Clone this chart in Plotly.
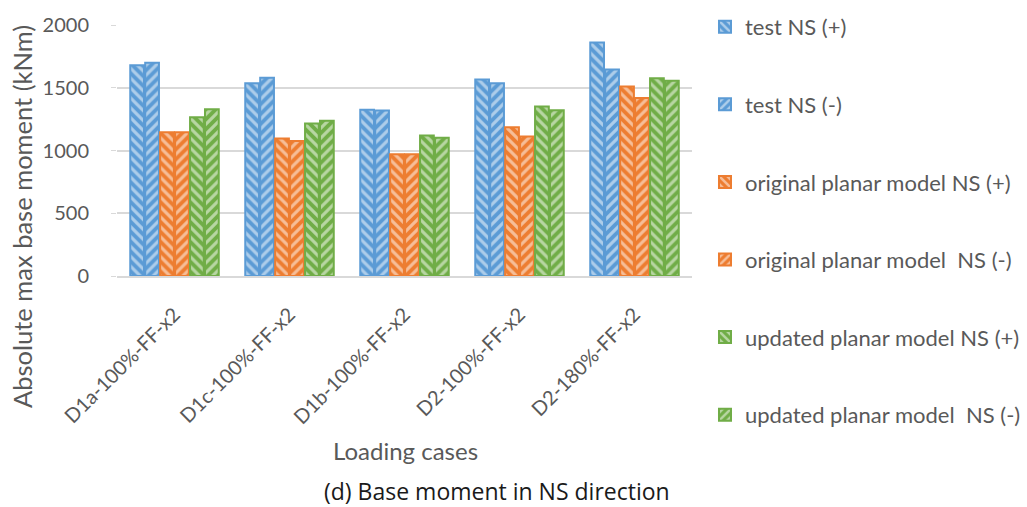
import plotly.graph_objects as go

categories = ["D1a-100%-FF-x2", "D1c-100%-FF-x2", "D1b-100%-FF-x2", "D2-100%-FF-x2", "D2-180%-FF-x2"]
test_pos = [1680, 1535, 1325, 1565, 1860]
test_neg = [1700, 1580, 1318, 1535, 1645]
orig_pos = [1145, 1095, 970, 1185, 1510]
orig_neg = [1145, 1075, 970, 1112, 1418]
upd_pos = [1265, 1215, 1120, 1350, 1575]
upd_neg = [1328, 1238, 1102, 1320, 1555]

series_names = ["test NS (+)", "test NS (-)", "original planar model NS (+)",
                "original planar model  NS (-)", "updated planar model NS (+)",
                "updated planar model  NS (-)"]
series_values = [test_pos, test_neg, orig_pos, orig_neg, upd_pos, upd_neg]
series_colors = ["#5B9BD5", "#5B9BD5", "#ED7D31", "#ED7D31", "#70AD47", "#70AD47"]
series_shapes = ["\\", "/", "\\", "/", "\\", "/"]

fig = go.Figure()
for i, (name, vals, col, shp) in enumerate(zip(series_names, series_values, series_colors, series_shapes)):
    fig.add_trace(go.Bar(
        x=categories, y=vals, name=name, legendgroup=f"g{i}",
        marker=dict(color=col, line=dict(color=col, width=2),
                    pattern=dict(shape=shp, fgcolor="white", bgcolor=col, size=7, solidity=0.45)),
    ))

font_family = "Lato, 'Open Sans', sans-serif"
grey = "#595959"
fig.update_layout(
    width=1027, height=507,
    margin=dict(l=117, r=335, t=25, b=231, autoexpand=False),
    paper_bgcolor="white", plot_bgcolor="white",
    barmode="group", bargap=0.22, bargroupgap=0.08,
    font=dict(family=font_family, color=grey, size=20),
    showlegend=True,
    legend=dict(x=1.0226, xanchor="left", y=1.076, yanchor="top", tracegroupgap=46,
                font=dict(size=22, color=grey), bgcolor="rgba(0,0,0,0)",
                itemwidth=30, maxheight=500),
    xaxis=dict(tickangle=-45, showline=True, linecolor="#d9d9d9", linewidth=2,
               ticks="", ticklabelstandoff=17, tickfont=dict(size=20, color=grey)),
    yaxis=dict(range=[0, 2000], dtick=500, showgrid=True, gridcolor="#d9d9d9", gridwidth=2,
               zeroline=False, ticks="outside", ticklen=5, tickcolor="#d9d9d9",
               ticklabelstandoff=18, tickfont=dict(size=20, color=grey)),
    annotations=[
        dict(text="Absolute max base moment (kNm)", xref="paper", yref="paper",
             x=(22 - 117) / 575, y=(276 - 217) / 251, textangle=-90,
             xanchor="center", yanchor="middle", showarrow=False,
             font=dict(size=25.5, color=grey)),
        dict(text="Loading cases", xref="paper", yref="paper",
             x=(405 - 117) / 575, y=(276 - 450) / 251, xanchor="center", yanchor="middle",
             showarrow=False, font=dict(size=24, color=grey)),
        dict(text="(d) Base moment in NS direction", xref="paper", yref="paper",
             x=(497 - 117) / 575, y=(276 - 491) / 251, xanchor="center", yanchor="middle",
             showarrow=False, font=dict(family="'Open Sans', sans-serif", size=23, color="#1a1a1a")),
    ],
)

fig.write_html("out.html", config={"displayModeBar": False},
               post_script="document.body.style.margin='0px';")
